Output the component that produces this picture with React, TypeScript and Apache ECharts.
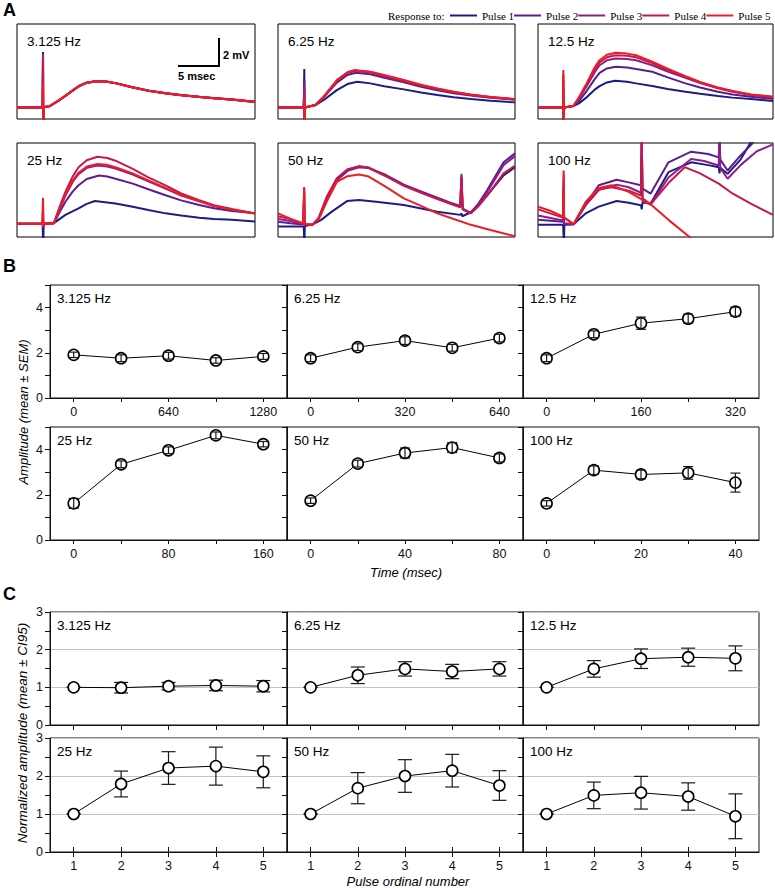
import React, { useEffect, useRef } from 'react';
import * as echarts from 'echarts';

const FONT = '"Liberation Sans", Arial, sans-serif';
const SERIF = '"Liberation Serif", "Times New Roman", serif';

const freqLabels = ['3.125 Hz', '6.25 Hz', '12.5 Hz', '25 Hz', '50 Hz', '100 Hz'];
const pulseNames = ['Pulse 1', 'Pulse 2', 'Pulse 3', 'Pulse 4', 'Pulse 5'];
const pulseColors = ['#1c1c88', '#5a1e90', '#8c1f86', '#c5184e', '#ee1d23'];

const trace3125 = [
  [[0,0.82],[3.12,0.82],[3.17,4.8],[3.2,-0.6],[3.25,0.84],[4.0,0.92],[5.0,1.28],[6.0,1.68],[7.0,2.12],[7.6,2.35],[8.5,2.58],[9.7,2.72],[11.0,2.67],[12.1,2.56],[14.1,2.28],[16.0,2.04],[18.2,1.85],[20.0,1.72],[22.3,1.58],[24.0,1.5],[26.3,1.4],[29.0,1.24]],
  [[0,0.83],[3.12,0.83],[3.17,4.7],[3.2,-0.6],[3.25,0.84],[4.0,0.93],[5.0,1.29],[6.0,1.7],[7.0,2.13],[7.6,2.37],[8.5,2.6],[9.7,2.71],[11.0,2.66],[12.1,2.55],[14.1,2.27],[16.0,2.03],[18.2,1.84],[20.0,1.71],[22.3,1.58],[24.0,1.49],[26.3,1.39],[29.0,1.23]],
  [[0,0.83],[3.12,0.83],[3.17,4.6],[3.2,-0.6],[3.25,0.84],[4.0,0.93],[5.0,1.3],[6.0,1.7],[7.0,2.14],[7.6,2.37],[8.5,2.6],[9.7,2.71],[11.0,2.66],[12.1,2.55],[14.1,2.26],[16.0,2.02],[18.2,1.83],[20.0,1.7],[22.3,1.57],[24.0,1.48],[26.3,1.38],[29.0,1.22]],
  [[0,0.84],[3.12,0.84],[3.17,4.5],[3.2,-0.6],[3.25,0.85],[4.0,0.93],[5.0,1.3],[6.0,1.71],[7.0,2.15],[7.6,2.38],[8.5,2.61],[9.7,2.72],[11.0,2.66],[12.1,2.55],[14.1,2.26],[16.0,2.02],[18.2,1.83],[20.0,1.7],[22.3,1.57],[24.0,1.48],[26.3,1.38],[29.0,1.22]],
  [[0,0.83],[3.12,0.83],[3.17,2.5],[3.2,-0.6],[3.25,0.85],[4.0,0.93],[5.0,1.3],[6.0,1.71],[7.0,2.15],[7.6,2.38],[8.5,2.6],[9.7,2.71],[11.0,2.66],[12.1,2.55],[14.1,2.26],[16.0,2.02],[18.2,1.83],[20.0,1.7],[22.3,1.57],[24.0,1.48],[26.3,1.38],[29.0,1.22]],
];
const trace625 = [
  [[0,0.83],[3.15,0.83],[3.22,3.57],[3.25,-0.6],[3.3,0.83],[4.6,1.0],[5.6,1.36],[7.2,2.07],[8.5,2.5],[9.7,2.67],[11.3,2.55],[13.0,2.35],[15.4,2.12],[17.5,1.9],[19.5,1.71],[21.5,1.56],[23.6,1.43],[26.0,1.3],[29.0,1.19]],
  [[0,0.83],[3.15,0.83],[3.22,2.8],[3.25,-0.4],[3.3,0.83],[4.6,1.0],[5.6,1.55],[7.2,2.6],[8.5,3.15],[9.5,3.31],[11.3,3.2],[13.0,2.95],[15.4,2.62],[17.5,2.3],[19.5,2.05],[21.5,1.85],[23.6,1.68],[26.0,1.52],[29.0,1.38]],
  [[0,0.83],[3.15,0.83],[3.22,2.4],[3.25,-0.4],[3.3,0.83],[4.6,1.0],[5.6,1.58],[7.2,2.7],[8.5,3.3],[9.5,3.43],[11.3,3.32],[13.0,3.05],[15.4,2.7],[17.5,2.38],[19.5,2.12],[21.5,1.9],[23.6,1.72],[26.0,1.55],[29.0,1.4]],
  [[0,0.83],[3.15,0.83],[3.22,2.0],[3.25,-0.4],[3.3,0.83],[4.6,1.0],[5.6,1.6],[7.2,2.75],[8.5,3.33],[9.4,3.48],[11.3,3.36],[13.0,3.1],[15.4,2.75],[17.5,2.42],[19.5,2.16],[21.5,1.93],[23.6,1.74],[26.0,1.57],[29.0,1.42]],
  [[0,0.83],[3.15,0.83],[3.22,1.3],[3.25,-0.4],[3.3,0.83],[4.6,1.0],[5.6,1.6],[7.2,2.79],[8.5,3.35],[9.3,3.5],[11.3,3.38],[13.0,3.15],[15.4,2.79],[17.5,2.45],[19.5,2.19],[21.5,1.95],[23.6,1.76],[26.0,1.58],[29.0,1.43]],
];
const trace125 = [
  [[0,0.83],[3.08,0.83],[3.13,1.6],[3.17,-0.6],[3.22,0.83],[4.35,0.93],[5.0,1.1],[6.0,1.55],[7.0,2.1],[7.6,2.35],[8.5,2.62],[9.5,2.74],[11.0,2.66],[12.1,2.55],[14.1,2.36],[16.0,2.15],[18.2,1.95],[20.0,1.8],[22.2,1.64],[24.0,1.53],[26.3,1.43],[29.0,1.29]],
  [[0,0.83],[3.08,0.83],[3.13,2.2],[3.17,-0.4],[3.22,0.83],[4.35,0.93],[5.0,1.25],[6.0,2.0],[7.0,2.85],[7.6,3.3],[8.5,3.62],[9.6,3.74],[11.0,3.68],[12.1,3.58],[14.1,3.38],[16.0,2.98],[18.2,2.55],[20.0,2.25],[22.2,1.95],[24.0,1.75],[26.3,1.6],[29.0,1.45]],
  [[0,0.83],[3.08,0.83],[3.13,2.8],[3.17,-0.4],[3.22,0.83],[4.35,0.93],[5.0,1.4],[6.0,2.35],[7.0,3.35],[7.6,3.85],[8.5,4.2],[9.6,4.33],[11.0,4.3],[12.1,4.2],[14.1,3.85],[16.0,3.4],[18.2,2.95],[20.0,2.58],[22.2,2.2],[24.0,1.95],[26.3,1.72],[29.0,1.56]],
  [[0,0.83],[3.08,0.83],[3.13,3.2],[3.17,-0.4],[3.22,0.83],[4.35,0.93],[5.0,1.45],[6.0,2.45],[7.0,3.55],[7.6,4.05],[8.5,4.42],[9.6,4.57],[11.0,4.52],[12.1,4.42],[14.1,4.0],[16.0,3.52],[18.2,3.02],[20.0,2.62],[22.2,2.23],[24.0,1.98],[26.3,1.74],[29.0,1.58]],
  [[0,0.83],[3.08,0.83],[3.13,3.5],[3.17,-0.6],[3.22,0.83],[4.35,0.93],[5.0,1.5],[6.0,2.55],[7.0,3.7],[7.6,4.21],[8.5,4.6],[9.6,4.74],[11.0,4.68],[12.1,4.57],[14.1,4.1],[16.0,3.6],[18.2,3.07],[20.0,2.65],[22.2,2.26],[24.0,2.0],[26.3,1.76],[29.0,1.6]],
];
const trace25 = [
  [[0,0.95],[3.12,0.95],[3.17,0.95],[3.2,-0.6],[3.25,0.95],[4.5,1.0],[5.9,1.6],[7.5,2.07],[8.5,2.4],[9.5,2.6],[11.0,2.5],[12.0,2.43],[14.1,2.19],[16.0,1.95],[18.1,1.71],[20.0,1.55],[22.2,1.4],[24.0,1.3],[26.2,1.24],[29.0,1.12]],
  [[0,0.95],[3.12,0.95],[3.17,1.8],[3.2,0.7],[3.25,0.95],[4.5,1.0],[5.2,1.8],[5.9,2.55],[6.8,3.3],[7.5,3.74],[8.5,4.2],[10.0,4.45],[11.0,4.38],[12.0,4.22],[14.1,3.86],[16.0,3.45],[18.1,3.02],[20.0,2.65],[22.2,2.31],[24.0,2.08],[26.2,1.88],[29.0,1.71]],
  [[0,0.95],[3.12,0.95],[3.17,2.2],[3.2,0.7],[3.25,0.95],[4.5,1.0],[5.2,2.0],[5.9,3.0],[6.8,4.0],[7.5,4.55],[8.5,5.0],[9.8,5.17],[11.0,5.1],[12.0,4.95],[14.1,4.52],[16.0,4.02],[18.1,3.5],[20.0,3.0],[22.2,2.58],[24.0,2.24],[26.2,1.97],[29.0,1.69]],
  [[0,0.95],[3.12,0.95],[3.17,2.6],[3.2,0.7],[3.25,0.95],[4.5,1.0],[5.2,2.2],[5.9,3.26],[6.8,4.4],[7.5,5.05],[8.5,5.55],[9.8,5.81],[11.0,5.72],[12.0,5.52],[14.1,4.93],[16.0,4.32],[18.1,3.74],[20.0,3.15],[22.2,2.67],[24.0,2.3],[26.2,2.02],[29.0,1.71]],
  [[0,0.95],[3.12,0.95],[3.17,2.83],[3.2,0.7],[3.25,0.95],[4.5,1.0],[5.2,2.1],[5.9,3.1],[6.8,4.1],[7.5,4.65],[8.5,5.1],[9.8,5.29],[11.0,5.22],[12.0,5.05],[14.1,4.6],[16.0,4.1],[18.1,3.55],[20.0,3.05],[22.2,2.6],[24.0,2.25],[26.2,1.98],[29.0,1.7]],
];
const trace50 = [
  [[0,0.76],[3.15,0.76],[3.2,0.76],[3.23,-0.6],[3.28,0.8],[4.2,0.9],[5.3,1.24],[6.5,1.8],[8.45,2.6],[9.9,2.67],[12.0,2.55],[15.4,2.31],[19.5,1.83],[22.3,1.6],[22.45,1.7],[22.55,1.5],[23.6,1.79],[25.6,3.02],[27.6,4.45],[29.0,5.05]],
  [[0,1.1],[1.5,1.0],[3.1,0.9],[3.2,3.2],[3.25,0.9],[4.2,0.88],[5.0,1.35],[6.0,2.8],[7.2,4.1],[8.5,4.78],[9.9,5.05],[11.0,5.0],[13.0,4.55],[15.4,3.78],[17.5,3.3],[19.5,2.85],[21.0,2.5],[22.3,2.25],[22.45,4.3],[22.6,2.05],[23.6,1.75],[24.5,2.4],[25.6,3.4],[27.6,5.4],[29.0,6.05]],
  [[0,1.3],[1.5,1.15],[3.1,0.95],[3.2,3.4],[3.25,0.9],[4.2,0.88],[5.0,1.4],[6.0,2.9],[7.2,4.2],[8.5,4.85],[9.9,5.12],[11.0,5.05],[13.0,4.5],[15.4,3.74],[17.5,3.25],[19.5,2.79],[21.0,2.45],[22.3,2.19],[22.45,4.57],[22.6,2.0],[23.6,1.71],[24.5,2.3],[25.6,3.26],[27.6,5.2],[29.0,5.85]],
  [[0,1.5],[1.5,1.3],[3.1,1.0],[3.2,3.5],[3.25,0.92],[4.2,0.88],[5.0,1.4],[6.0,2.95],[7.2,4.25],[8.5,4.9],[9.9,5.1],[11.0,5.02],[13.0,4.45],[15.4,3.7],[17.5,3.2],[19.5,2.75],[21.0,2.42],[22.3,2.15],[22.45,4.4],[22.6,2.0],[23.6,1.71],[24.5,2.2],[25.6,3.0],[27.6,4.6],[29.0,5.17]],
  [[0,1.71],[1.0,1.45],[2.0,1.2],[3.1,0.95],[3.2,3.62],[3.25,0.95],[4.2,0.88],[5.0,1.3],[6.0,2.6],[7.2,3.98],[8.5,4.4],[9.9,4.52],[11.0,4.4],[13.0,3.7],[15.4,2.79],[17.5,2.25],[19.5,1.71],[21.5,1.3],[23.6,0.88],[26.0,0.5],[29.0,0.05]],
];
const trace100 = [
  [[0,0.88],[3.1,0.88],[3.17,0.88],[3.2,-0.6],[3.25,0.88],[4.4,0.93],[5.9,1.71],[7.5,2.2],[9.7,2.6],[11.2,2.48],[12.7,2.3],[12.8,2.0],[12.9,2.5],[13.9,2.43],[16.1,4.69],[18.9,5.4],[21.0,5.2],[22.3,5.05],[22.4,4.6],[22.5,5.0],[23.4,4.57],[25.0,5.6],[26.2,6.8],[26.5,7.2]],
  [[0,1.24],[3.1,1.1],[3.17,3.5],[3.22,0.9],[4.4,0.93],[5.9,2.4],[7.5,3.74],[9.7,4.14],[11.2,3.95],[12.7,3.74],[12.8,7.2],[12.9,3.5],[13.9,3.14],[16.1,5.4],[18.9,6.17],[21.0,6.0],[22.3,5.76],[22.4,7.2],[22.5,5.6],[23.4,4.81],[25.0,5.9],[26.5,6.8],[27.0,7.2]],
  [[0,1.55],[3.1,1.2],[3.17,4.0],[3.22,1.0],[4.4,0.93],[5.9,2.3],[7.5,3.4],[9.7,3.79],[11.2,3.6],[12.7,3.2],[12.8,7.2],[12.9,2.6],[13.9,2.36],[16.1,4.3],[18.9,5.64],[20.5,5.5],[22.3,5.17],[22.4,7.2],[22.5,5.0],[23.4,4.21],[25.0,5.2],[27.0,6.2],[29.0,6.7]],
  [[0,2.0],[3.1,1.4],[3.17,4.5],[3.22,1.4],[4.4,0.93],[5.9,2.5],[7.5,3.45],[9.1,3.6],[11.2,3.35],[12.7,3.0],[12.8,7.2],[12.9,2.8],[13.9,2.36],[16.1,3.9],[18.1,5.05],[20.0,4.6],[22.3,3.86],[24.0,3.15],[26.2,2.43],[29.0,1.6]],
  [[0,2.19],[1.5,1.9],[3.1,1.48],[3.17,4.81],[3.22,1.4],[4.4,0.93],[5.9,2.55],[7.5,3.55],[9.1,3.74],[11.2,3.26],[14.0,2.31],[16.1,1.24],[18.7,0.0],[20.0,-0.7]],
];
const traces = [trace3125, trace625, trace125, trace25, trace50, trace100];

// Panel B: amplitude (mean ± SEM) vs time of pulse
const timeTicks = [
  ['0', '320', '640', '960', '1280'],
  ['0', '160', '320', '480', '640'],
  ['0', '80', '160', '240', '320'],
  ['0', '40', '80', '120', '160'],
  ['0', '20', '40', '60', '80'],
  ['0', '10', '20', '30', '40'],
];
const ampMean = [
  [1.91, 1.76, 1.87, 1.66, 1.84],
  [1.76, 2.25, 2.54, 2.22, 2.65],
  [1.76, 2.82, 3.31, 3.51, 3.82],
  [1.62, 3.35, 3.97, 4.63, 4.24],
  [1.74, 3.38, 3.85, 4.09, 3.63],
  [1.62, 3.09, 2.90, 2.97, 2.54],
];
const ampSem = [
  [0.12, 0.15, 0.15, 0.12, 0.13],
  [0.15, 0.15, 0.17, 0.15, 0.17],
  [0.15, 0.15, 0.27, 0.20, 0.20],
  [0.22, 0.15, 0.15, 0.15, 0.12],
  [0.12, 0.15, 0.22, 0.22, 0.18],
  [0.12, 0.19, 0.19, 0.28, 0.42],
];

// Panel C: normalized amplitude (mean ± CI95) vs pulse ordinal number
const pulseOrdinals = ['1', '2', '3', '4', '5'];
const normMean = [
  [1.0, 0.99, 1.03, 1.05, 1.03],
  [1.0, 1.32, 1.49, 1.42, 1.49],
  [1.0, 1.49, 1.76, 1.80, 1.77],
  [1.0, 1.79, 2.21, 2.26, 2.11],
  [1.0, 1.68, 2.00, 2.14, 1.75],
  [1.0, 1.49, 1.56, 1.46, 0.94],
];
const normCI = [
  [0, 0.14, 0.10, 0.14, 0.15],
  [0, 0.22, 0.19, 0.19, 0.19],
  [0, 0.22, 0.26, 0.24, 0.33],
  [0, 0.34, 0.43, 0.50, 0.42],
  [0, 0.41, 0.43, 0.43, 0.39],
  [0, 0.35, 0.43, 0.36, 0.59],
];

const A_COLS = [{ left: 17, width: 238 }, { left: 278, width: 237 }, { left: 538, width: 235 }];
const A_ROWS = [{ top: 24, height: 95 }, { top: 143, height: 94 }];
const BC_COLS = [{ left: 50, width: 237 }, { left: 287, width: 236 }, { left: 523, width: 236 }];
const B_ROWS = [{ top: 285, height: 113 }, { top: 427, height: 113 }];
const C_ROWS = [{ top: 612, height: 113 }, { top: 738, height: 114 }];

function errorSeries(xi: number, yi: number, means: number[], errs: number[], capHalf: number, z: number) {
  return {
    type: 'custom',
    xAxisIndex: xi,
    yAxisIndex: yi,
    silent: true,
    z,
    data: means.map((m, k) => [k, m, errs[k]]),
    encode: { x: 0, y: 1 },
    renderItem: (params: any, api: any) => {
      const k = api.value(0);
      const m = api.value(1);
      const e = api.value(2);
      const hi = api.coord([k, m + e]);
      const lo = api.coord([k, m - e]);
      const st = { stroke: '#1a1a1a', lineWidth: 1.2 };
      return {
        type: 'group',
        children: [
          { type: 'line', shape: { x1: hi[0], y1: hi[1], x2: lo[0], y2: lo[1] }, style: st },
          { type: 'line', shape: { x1: hi[0] - capHalf, y1: hi[1], x2: hi[0] + capHalf, y2: hi[1] }, style: st },
          { type: 'line', shape: { x1: lo[0] - capHalf, y1: lo[1], x2: lo[0] + capHalf, y2: lo[1] }, style: st },
        ],
      };
    },
  };
}

function textEl(text: string, x: number, y: number, font: string, extra: any = {}) {
  return {
    type: 'text',
    x,
    y,
    silent: true,
    ...extra,
    style: {
      text,
      font,
      fill: '#000',
      textAlign: extra.align || 'left',
      textVerticalAlign: 'middle',
      verticalAlign: 'middle',
    },
  };
}

function buildOption() {
  const grids: any[] = [];
  const xAxes: any[] = [];
  const yAxes: any[] = [];
  const series: any[] = [];
  const graphics: any[] = [];
  const axisColor = '#111';
  const labelStyle = { color: '#111', fontSize: 12.5, fontFamily: FONT };

  // Panel A
  for (let i = 0; i < 6; i++) {
    const r = Math.floor(i / 3), c = i % 3;
    grids.push({ left: A_COLS[c].left, top: A_ROWS[r].top, width: A_COLS[c].width, height: A_ROWS[r].height, show: true, borderColor: '#000', borderWidth: 1 });
    xAxes.push({ type: 'value', gridIndex: i, min: 0, max: 29, show: false });
    yAxes.push({ type: 'value', gridIndex: i, min: 0, max: 6.8, show: false });
    traces[i].forEach((pts, p) => {
      series.push({
        type: 'line', name: pulseNames[p], xAxisIndex: i, yAxisIndex: i, data: pts,
        showSymbol: false, symbol: 'none', clip: true, silent: true, z: 2 + p,
        lineStyle: { color: pulseColors[p], width: 2 }, itemStyle: { color: pulseColors[p] },
      });
    });
    graphics.push(textEl(freqLabels[i], A_COLS[c].left + 10, A_ROWS[r].top + 17, `13.5px ${FONT}`));
  }

  // Panel B
  for (let i = 0; i < 6; i++) {
    const r = Math.floor(i / 3), c = i % 3;
    const gi = 6 + i;
    grids.push({ left: BC_COLS[c].left, top: B_ROWS[r].top, width: BC_COLS[c].width, height: B_ROWS[r].height, show: true, borderColor: axisColor, borderWidth: 1 });
    xAxes.push({
      type: 'category', gridIndex: gi, data: timeTicks[i], boundaryGap: true,
      axisLine: { show: true, lineStyle: { color: axisColor } },
      axisTick: { show: true, alignWithLabel: true, interval: 0, length: 4, lineStyle: { color: axisColor } },
      axisLabel: { ...labelStyle, interval: 1, margin: 7 },
      splitLine: { show: false },
    });
    yAxes.push({
      type: 'value', gridIndex: gi, min: 0, max: 5, interval: 1,
      axisLine: { show: true, lineStyle: { color: axisColor } },
      axisTick: { show: true, length: 5, lineStyle: { color: axisColor } },
      axisLabel: { ...labelStyle, show: c === 0, margin: 7, formatter: (v: number) => (v % 2 === 0 && v < 5 ? String(v) : '') },
      splitLine: { show: false },
    });
    series.push({
      type: 'line', xAxisIndex: gi, yAxisIndex: gi, data: ampMean[i], symbol: 'circle', symbolSize: 11,
      silent: true, z: 3,
      lineStyle: { color: '#000', width: 1 },
      itemStyle: { color: '#fff', borderColor: '#000', borderWidth: 1.6 },
    });
    series.push(errorSeries(gi, gi, ampMean[i], ampSem[i], 5, 4));
    graphics.push(textEl(freqLabels[i], BC_COLS[c].left + 7, B_ROWS[r].top + 13, `13.5px ${FONT}`));
  }

  // Panel C
  for (let i = 0; i < 6; i++) {
    const r = Math.floor(i / 3), c = i % 3;
    const gi = 12 + i;
    grids.push({ left: BC_COLS[c].left, top: C_ROWS[r].top, width: BC_COLS[c].width, height: C_ROWS[r].height, show: true, borderColor: axisColor, borderWidth: 1 });
    xAxes.push({
      type: 'category', gridIndex: gi, data: pulseOrdinals, boundaryGap: true,
      axisLine: { show: true, lineStyle: { color: axisColor } },
      axisTick: { show: true, alignWithLabel: true, interval: 0, length: 5, lineStyle: { color: axisColor } },
      axisLabel: { ...labelStyle, show: r === 1, interval: 0, margin: 7 },
      splitLine: { show: false },
    });
    yAxes.push({
      type: 'value', gridIndex: gi, min: 0, max: 3, interval: 0.5,
      axisLine: { show: true, lineStyle: { color: axisColor } },
      axisTick: { show: true, length: 5, lineStyle: { color: axisColor } },
      axisLabel: { ...labelStyle, show: c === 0, margin: 7, formatter: (v: number) => (Number.isInteger(v) ? String(v) : '') },
      splitLine: { show: false },
    });
    series.push({
      type: 'line', xAxisIndex: gi, yAxisIndex: gi, data: normMean[i], symbol: 'circle', symbolSize: 11,
      silent: true, z: 4,
      lineStyle: { color: '#000', width: 1 },
      itemStyle: { color: '#fff', borderColor: '#000', borderWidth: 1.6 },
    });
    series.push(errorSeries(gi, gi, normMean[i], normCI[i], 7, 3));
    graphics.push(textEl(freqLabels[i], BC_COLS[c].left + 7, C_ROWS[r].top + 13, `13.5px ${FONT}`));
  }
  // C: light reference lines at integer values
  for (let i = 0; i < 6; i++) {
    yAxes.push({
      type: 'value', gridIndex: 12 + i, min: 0, max: 3, interval: 1, position: 'left',
      axisLine: { show: false }, axisTick: { show: false }, axisLabel: { show: false },
      splitLine: { show: true, lineStyle: { color: '#c4c4c4', width: 1 } },
    });
  }
  // C lower row: top ticks
  for (let c = 0; c < 3; c++) {
    xAxes.push({
      type: 'category', gridIndex: 15 + c, data: pulseOrdinals, boundaryGap: true, position: 'top',
      axisLine: { show: false },
      axisTick: { show: true, alignWithLabel: true, interval: 0, length: 5, lineStyle: { color: axisColor } },
      axisLabel: { show: false }, splitLine: { show: false },
    });
  }

  // panel letters
  graphics.push(textEl('A', 3, 10, `bold 18px ${FONT}`));
  graphics.push(textEl('B', 3, 266, `bold 18px ${FONT}`));
  graphics.push(textEl('C', 3, 594, `bold 18px ${FONT}`));

  // scale bar
  graphics.push({ type: 'line', silent: true, shape: { x1: 178, y1: 66, x2: 219, y2: 66 }, style: { stroke: '#000', lineWidth: 2 } });
  graphics.push({ type: 'line', silent: true, shape: { x1: 219, y1: 38, x2: 219, y2: 67 }, style: { stroke: '#000', lineWidth: 2 } });
  graphics.push(textEl('2 mV', 223, 55, `bold 11px ${FONT}`));
  graphics.push(textEl('5 msec', 178, 76, `bold 11px ${FONT}`));

  // legend prefix
  graphics.push(textEl('Response to:', 388, 16, `11px ${SERIF}`));

  // axis titles
  graphics.push(textEl('Amplitude (mean ± SEM)', 23, 412, `italic 13px ${FONT}`, { rotation: Math.PI / 2, align: 'center' }));
  graphics.push(textEl('Normalized amplitude (mean ± CI95)', 22, 733, `italic 13.5px ${FONT}`, { rotation: Math.PI / 2, align: 'center' }));
  graphics.push(textEl('Time (msec)', 406, 572, `italic 13px ${FONT}`, { align: 'center' }));
  graphics.push(textEl('Pulse ordinal number', 408, 881, `italic 13px ${FONT}`, { align: 'center' }));

  return {
    animation: false,
    backgroundColor: '#fff',
    legend: {
      data: pulseNames,
      left: 450,
      top: 10,
      padding: 0,
      itemWidth: 27,
      itemHeight: 2,
      itemGap: 0,
      icon: 'rect',
      selectedMode: false,
      textStyle: { fontFamily: SERIF, fontSize: 11, color: '#000' },
    },
    grid: grids,
    xAxis: xAxes,
    yAxis: yAxes,
    series,
    graphic: { elements: graphics },
  };
}

export default function App() {
  const ref = useRef<HTMLDivElement>(null);
  useEffect(() => {
    if (!ref.current) return;
    const chart = echarts.init(ref.current, undefined, { renderer: 'svg' });
    chart.setOption(buildOption() as any);
    return () => chart.dispose();
  }, []);
  return (
    <div
      ref={ref}
      style={{ position: 'fixed', left: 0, top: 0, width: 775, height: 888, background: '#fff' }}
    />
  );
}
